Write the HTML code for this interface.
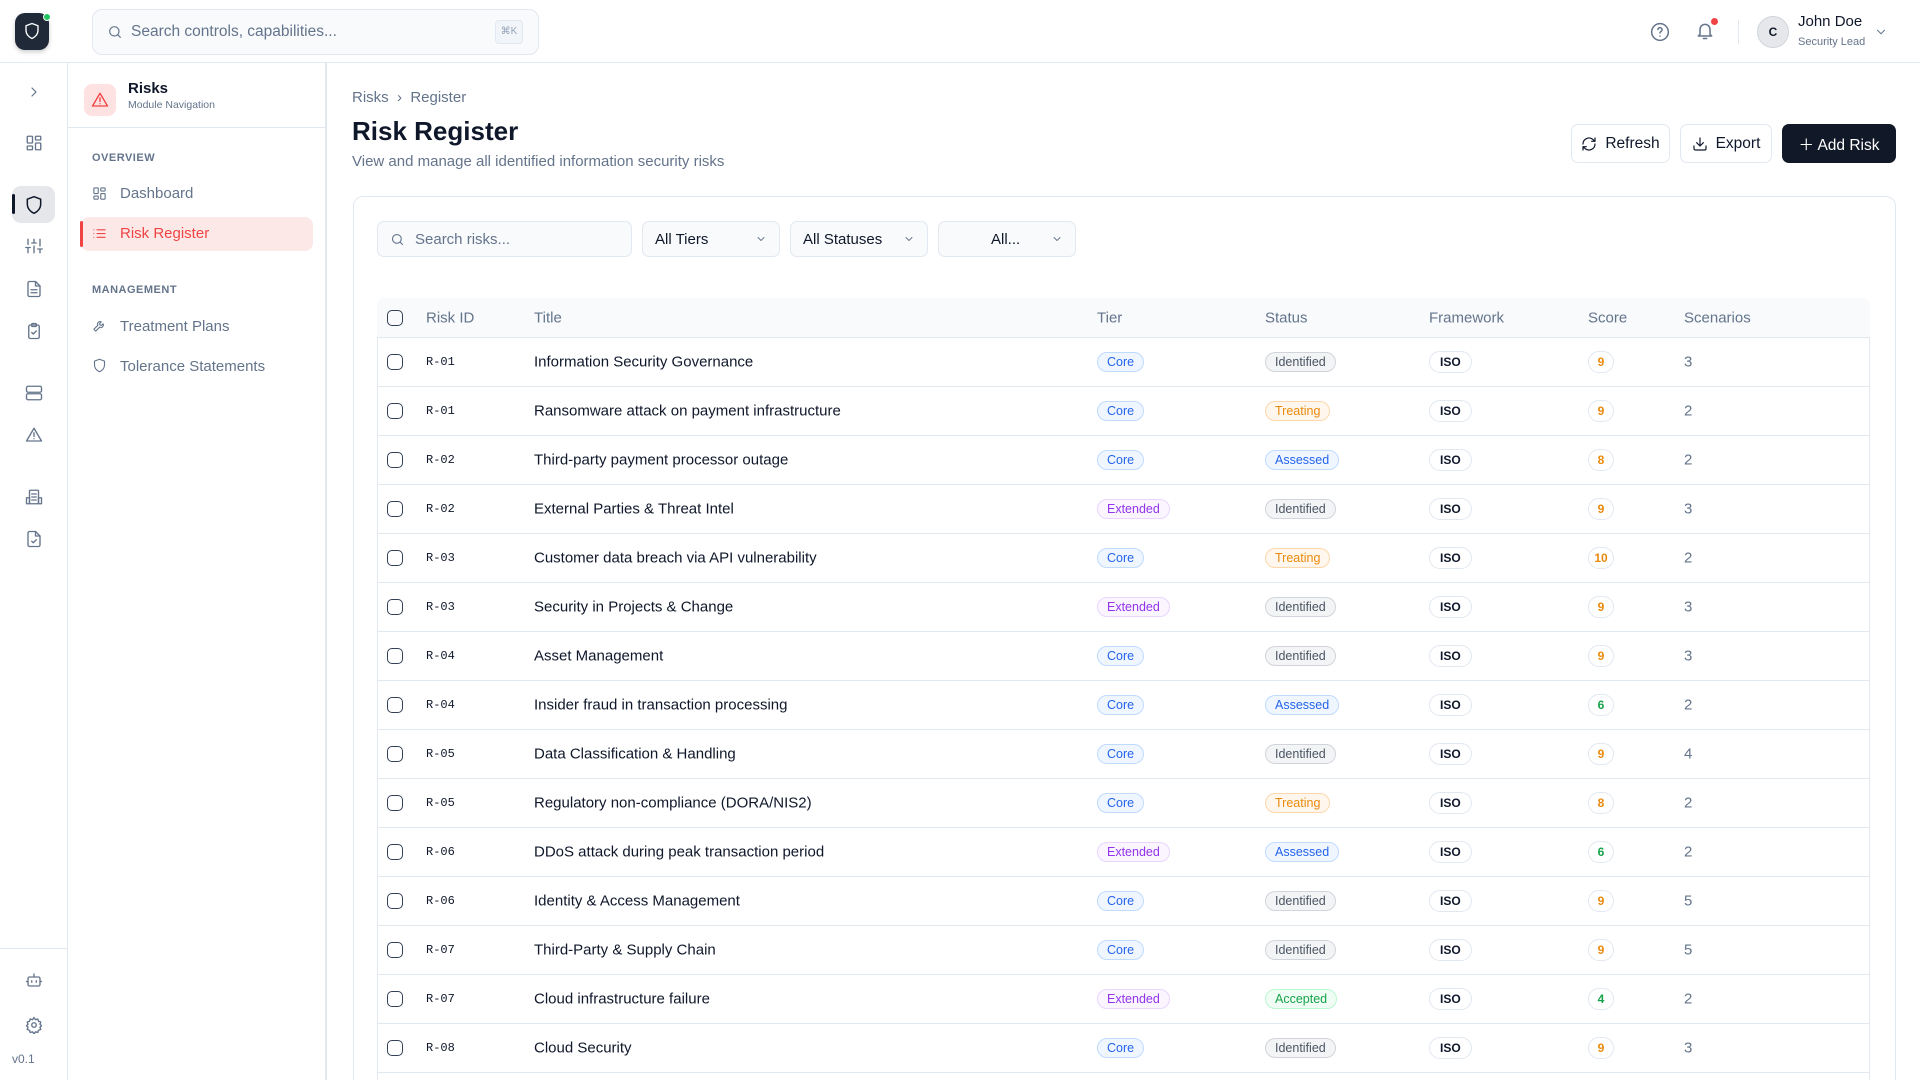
<!DOCTYPE html>
<html style="width:1920px;height:1080px;overflow:hidden"><head><meta charset="utf-8">
<style>
*{box-sizing:border-box;margin:0;padding:0}
body{width:1920px;height:1080px;overflow:hidden;background:#fff;font-family:"Liberation Sans",sans-serif;color:#0f172a;position:relative}
.abs{position:absolute}
.ic{position:absolute;stroke:#64748b;fill:none;stroke-width:1.8;stroke-linecap:round;stroke-linejoin:round}
.topbar{left:0;top:0;width:1920px;height:63px;border-bottom:1px solid #e2e8f0}
.rail{left:0;top:63px;width:68px;height:1017px;border-right:1px solid #e2e8f0}
.mod{left:68px;top:63px;width:259px;height:1017px;border-right:2px solid #e2e8f0}
.sec{font-size:11px;font-weight:bold;color:#64748b;letter-spacing:.5px}
.nav{font-size:15px;color:#64748b}
.btn{border:1px solid #e2e8f0;border-radius:7px;height:39px;top:124px;font-size:15.5px;display:flex;align-items:center;justify-content:center;gap:8px;color:#0f172a}
.flt{top:221px;height:36px;border:1px solid #e2e8f0;border-radius:7px;background:#f8fafc;font-size:15px;display:flex;align-items:center;padding:0 12px}
.row{left:377px;width:1493px;height:49px;border-bottom:1px solid #e2e8f0}
.cell{position:absolute;top:50%;transform:translateY(-50%);font-size:15px;white-space:nowrap}
.cb{position:absolute;left:10px;top:50%;margin-top:-8px;width:16px;height:16px;border:1.5px solid #334155;border-radius:5px}
.id{font-family:"Liberation Mono",monospace;font-size:12px;left:49px}
.badge{font-size:12.5px;padding:2px 9px;border-radius:11px;border:1px solid}
.core{color:#2563eb;background:#eff6ff;border-color:#bfdbfe}
.ext{color:#9333ea;background:#faf5ff;border-color:#e9d5ff}
.idf{color:#4b5563;background:#f3f4f6;border-color:#d1d5db}
.trt{color:#ea8a0c;background:#fff7ed;border-color:#fed7aa}
.asd{color:#2563eb;background:#eff6ff;border-color:#bfdbfe}
.acc{color:#16a34a;background:#f0fdf4;border-color:#bbf7d0}
.iso{font-size:12px;font-weight:bold;border:1px solid #e2e8f0;border-radius:11px;padding:3px 10px;background:#fff}
.sc{font-size:12px;font-weight:bold;border:1px solid #e2e8f0;border-radius:11px;padding:3px 0;width:26px;text-align:center}
.o{color:#ea8a0c}.g{color:#16a34a}
.hd{font-size:15px;color:#64748b}
</style></head><body>
<div class="abs topbar"></div>
<div class="abs rail"></div>
<div class="abs mod"></div>
<div class="abs" style="left:15px;top:13px;width:34px;height:37px;border-radius:10px;background:#1f2937;box-shadow:0 2px 5px rgba(0,0,0,.2)"></div>
<svg class="ic" style="left:23px;top:22px;stroke:#fff" width="18" height="18" viewBox="0 0 24 24"><path d="M12 2l8 3v6c0 5-3.5 9-8 11-4.5-2-8-6-8-11V5z"/></svg>
<div class="abs" style="left:43px;top:13px;width:8px;height:8px;border-radius:50%;background:#22c55e;border:1px solid #fff"></div>
<div class="abs" style="left:92px;top:9px;width:447px;height:46px;border:1px solid #e2e8f0;border-radius:10px;background:#f8fafc"></div>
<svg class="ic" style="left:107px;top:24px" width="16" height="16" viewBox="0 0 24 24"><circle cx="11" cy="11" r="7"/><path d="M20 20l-4-4"/></svg>
<div class="abs" style="left:131px;top:23px;font-size:15.5px;color:#64748b">Search controls, capabilities...</div>
<div class="abs" style="left:495px;top:20px;width:28px;height:24px;border:1px solid #e2e8f0;border-radius:4px;background:#f1f5f9;font-size:10px;color:#94a3b8;text-align:center;line-height:22px">⌘K</div>
<svg class="ic" style="left:1650px;top:22px" width="20" height="20" viewBox="0 0 24 24"><circle cx="12" cy="12" r="10"/><path d="M9.5 9a2.5 2.5 0 015 .5c0 1.7-2.5 2-2.5 3.5M12 17h.01"/></svg>
<svg class="ic" style="left:1695px;top:21px" width="20" height="20" viewBox="0 0 24 24"><path d="M6 16V10a6 6 0 0112 0v6l2 2H4zM10 21h4"/></svg>
<div class="abs" style="left:1711px;top:18px;width:7px;height:7px;border-radius:50%;background:#ef4444"></div>
<div class="abs" style="left:1738px;top:20px;width:1px;height:24px;background:#e2e8f0"></div>
<div class="abs" style="left:1757px;top:16px;width:32px;height:32px;border-radius:50%;background:#e5e7eb;border:1px solid #d1d5db;font-size:12px;font-weight:bold;text-align:center;line-height:30px">C</div>
<div class="abs" style="left:1798px;top:13px;font-size:15px">John Doe</div>
<div class="abs" style="left:1798px;top:36px;font-size:11px;color:#64748b">Security Lead</div>
<svg class="ic" style="left:1874px;top:25px" width="14" height="14" viewBox="0 0 24 24"><path d="M6 9l6 6 6-6"/></svg>
<svg class="ic" style="left:26px;top:84px" width="16" height="16" viewBox="0 0 24 24"><path d="M9 6l6 6-6 6"/></svg>
<svg class="ic" style="left:25px;top:134px" width="18" height="18" viewBox="0 0 24 24"><rect x="3" y="3" width="7" height="9" rx="1"/><rect x="14" y="3" width="7" height="5" rx="1"/><rect x="14" y="12" width="7" height="9" rx="1"/><rect x="3" y="16" width="7" height="5" rx="1"/></svg>
<div class="abs" style="left:12px;top:186px;width:43px;height:37px;border-radius:9px;background:#e5e7eb"></div>
<div class="abs" style="left:12px;top:194px;width:3px;height:20px;border-radius:2px;background:#0f172a"></div>
<svg class="ic" style="left:24px;top:195px;stroke:#0f172a" width="20" height="20" viewBox="0 0 24 24"><path d="M12 2l8 3v6c0 5-3.5 9-8 11-4.5-2-8-6-8-11V5z"/></svg>
<svg class="ic" style="left:25px;top:237px" width="18" height="18" viewBox="0 0 24 24"><path d="M4 21v-7M4 10V3M12 21v-9M12 8V3M20 21v-5M20 12V3M1 14h6M9 8h6M17 16h6"/></svg>
<svg class="ic" style="left:25px;top:280px" width="18" height="18" viewBox="0 0 24 24"><path d="M14 2H6a2 2 0 00-2 2v16a2 2 0 002 2h12a2 2 0 002-2V8z"/><path d="M14 2v6h6M8 13h8M8 17h8"/></svg>
<svg class="ic" style="left:25px;top:322px" width="18" height="18" viewBox="0 0 24 24"><rect x="5" y="4" width="14" height="18" rx="2"/><rect x="9" y="2" width="6" height="4" rx="1"/><path d="M9 14l2 2 4-4"/></svg>
<svg class="ic" style="left:25px;top:384px" width="18" height="18" viewBox="0 0 24 24"><rect x="2" y="3" width="20" height="8" rx="2"/><rect x="2" y="13" width="20" height="8" rx="2"/></svg>
<svg class="ic" style="left:25px;top:426px" width="18" height="18" viewBox="0 0 24 24"><path d="M12 3L2 20h20zM12 9v5M12 17h.01"/></svg>
<svg class="ic" style="left:25px;top:488px" width="18" height="18" viewBox="0 0 24 24"><rect x="6" y="3" width="12" height="18" rx="1"/><path d="M2 13h4v8H2zM18 13h4v8h-4zM9 8h6M9 12h6M9 16h6"/></svg>
<svg class="ic" style="left:25px;top:530px" width="18" height="18" viewBox="0 0 24 24"><path d="M14 2H6a2 2 0 00-2 2v16a2 2 0 002 2h12a2 2 0 002-2V8z"/><path d="M14 2v6h6M9 15l2 2 4-4"/></svg>
<div class="abs" style="left:0;top:948px;width:68px;height:1px;background:#e2e8f0"></div>
<svg class="ic" style="left:25px;top:971px" width="18" height="18" viewBox="0 0 24 24"><rect x="4" y="8" width="16" height="12" rx="2"/><path d="M12 4v4M2 14h2M20 14h2M9 13v2M15 13v2"/></svg>
<svg class="ic" style="left:25px;top:1016px" width="18" height="18" viewBox="0 0 24 24"><circle cx="12" cy="12" r="3"/><path d="M12 2l2 3 3-1 1 3 3 1-1 3 2 2-2 2 1 3-3 1-1 3-3-1-2 3-2-3-3 1-1-3-3-1 1-3-2-2 2-2-1-3 3-1 1-3 3 1z"/></svg>
<div class="abs" style="left:12px;top:1052px;font-size:12px;color:#64748b">v0.1</div>
<div class="abs" style="left:84px;top:84px;width:32px;height:32px;border-radius:8px;background:#fee2e2"></div>
<svg class="ic" style="left:91px;top:91px;stroke:#ef4444" width="18" height="18" viewBox="0 0 24 24"><path d="M12 3L2 20h20zM12 9v5M12 17h.01"/></svg>
<div class="abs" style="left:128px;top:80px;font-size:15px;font-weight:bold">Risks</div>
<div class="abs" style="left:128px;top:99px;font-size:10.5px;color:#64748b">Module Navigation</div>
<div class="abs" style="left:68px;top:127px;width:259px;height:1px;background:#e2e8f0"></div>
<div class="abs sec" style="left:92px;top:152px">OVERVIEW</div>
<svg class="ic" style="left:92px;top:186px" width="15" height="15" viewBox="0 0 24 24"><rect x="3" y="3" width="7" height="9" rx="1"/><rect x="14" y="3" width="7" height="5" rx="1"/><rect x="14" y="12" width="7" height="9" rx="1"/><rect x="3" y="16" width="7" height="5" rx="1"/></svg>
<div class="abs nav" style="left:120px;top:185px">Dashboard</div>
<div class="abs" style="left:81px;top:217px;width:232px;height:34px;border-radius:8px;background:#fde8e8"></div>
<div class="abs" style="left:80px;top:221px;width:3px;height:26px;border-radius:2px;background:#ef4444"></div>
<svg class="ic" style="left:92px;top:226px;stroke:#ef4444" width="15" height="15" viewBox="0 0 24 24"><path d="M8 6h13M8 12h13M8 18h13M3 6h.01M3 12h.01M3 18h.01"/></svg>
<div class="abs nav" style="left:120px;top:225px;color:#ef4444">Risk Register</div>
<div class="abs sec" style="left:92px;top:284px">MANAGEMENT</div>
<svg class="ic" style="left:92px;top:318px" width="15" height="15" viewBox="0 0 24 24"><path d="M14.7 6.3a4 4 0 00-5.4 5.4L3 18l3 3 6.3-6.3a4 4 0 005.4-5.4l-2.5 2.5-2.5-.5-.5-2.5z"/></svg>
<div class="abs nav" style="left:120px;top:318px">Treatment Plans</div>
<svg class="ic" style="left:92px;top:358px" width="15" height="15" viewBox="0 0 24 24"><path d="M12 2l8 3v6c0 5-3.5 9-8 11-4.5-2-8-6-8-11V5z"/></svg>
<div class="abs nav" style="left:120px;top:358px">Tolerance Statements</div>
<div class="abs" style="left:352px;top:89px;font-size:15px;color:#64748b">Risks &nbsp;›&nbsp; Register</div>
<div class="abs" style="left:352px;top:116px;font-size:26px;font-weight:bold">Risk Register</div>
<div class="abs" style="left:352px;top:153px;font-size:15px;color:#64748b">View and manage all identified information security risks</div>
<div class="abs btn" style="left:1571px;width:99px"><svg class="ic" style="position:static;stroke:#0f172a" width="16" height="16" viewBox="0 0 24 24"><path d="M21 12a9 9 0 01-15 6.7L3 16M3 12a9 9 0 0115-6.7L21 8M21 3v5h-5M3 21v-5h5"/></svg>Refresh</div>
<div class="abs btn" style="left:1680px;width:92px"><svg class="ic" style="position:static;stroke:#0f172a" width="16" height="16" viewBox="0 0 24 24"><path d="M21 15v4a2 2 0 01-2 2H5a2 2 0 01-2-2v-4M7 10l5 5 5-5M12 15V3"/></svg>Export</div>
<div class="abs btn" style="left:1782px;width:114px;top:124px;height:39px;background:#111827;color:#fff;border-color:#111827">＋ Add Risk</div>
<div class="abs" style="left:353px;top:196px;width:1543px;height:900px;border:1px solid #e2e8f0;border-radius:10px"></div>
<div class="abs flt" style="left:377px;width:255px;color:#64748b"><svg class="ic" style="position:static;margin-right:10px" width="15" height="15" viewBox="0 0 24 24"><circle cx="11" cy="11" r="7"/><path d="M20 20l-4-4"/></svg>Search risks...</div>
<div class="abs flt" style="left:642px;width:138px;justify-content:space-between">All Tiers<svg class="ic" style="position:static" width="12" height="12" viewBox="0 0 24 24"><path d="M6 9l6 6 6-6"/></svg></div>
<div class="abs flt" style="left:790px;width:138px;justify-content:space-between">All Statuses<svg class="ic" style="position:static" width="12" height="12" viewBox="0 0 24 24"><path d="M6 9l6 6 6-6"/></svg></div>
<div class="abs flt" style="left:938px;width:138px;justify-content:space-between"><span style="margin-left:40px">All...</span><svg class="ic" style="position:static" width="12" height="12" viewBox="0 0 24 24"><path d="M6 9l6 6 6-6"/></svg></div>
<div class="abs" style="left:377px;top:298px;width:1493px;height:800px;border:1px solid #e2e8f0;border-radius:8px"></div>
<div class="abs row" style="top:298px;height:40px;background:#f8fafc;border-radius:8px 8px 0 0">
<div class="cb"></div>
<div class="cell hd" style="left:49px">Risk ID</div><div class="cell hd" style="left:157px">Title</div><div class="cell hd" style="left:720px">Tier</div><div class="cell hd" style="left:888px">Status</div><div class="cell hd" style="left:1052px">Framework</div><div class="cell hd" style="left:1211px">Score</div><div class="cell hd" style="left:1307px">Scenarios</div>
</div>
<div id="rows"></div>
<script>
const d=[["R-01","Information Security Governance","core","idf","Identified","9","o",3],
["R-01","Ransomware attack on payment infrastructure","core","trt","Treating","9","o",2],
["R-02","Third-party payment processor outage","core","asd","Assessed","8","o",2],
["R-02","External Parties & Threat Intel","ext","idf","Identified","9","o",3],
["R-03","Customer data breach via API vulnerability","core","trt","Treating","10","o",2],
["R-03","Security in Projects & Change","ext","idf","Identified","9","o",3],
["R-04","Asset Management","core","idf","Identified","9","o",3],
["R-04","Insider fraud in transaction processing","core","asd","Assessed","6","g",2],
["R-05","Data Classification & Handling","core","idf","Identified","9","o",4],
["R-05","Regulatory non-compliance (DORA/NIS2)","core","trt","Treating","8","o",2],
["R-06","DDoS attack during peak transaction period","ext","asd","Assessed","6","g",2],
["R-06","Identity & Access Management","core","idf","Identified","9","o",5],
["R-07","Third-Party & Supply Chain","core","idf","Identified","9","o",5],
["R-07","Cloud infrastructure failure","ext","acc","Accepted","4","g",2],
["R-08","Cloud Security","core","idf","Identified","9","o",3]];
let h="";
d.forEach((r,i)=>{const t=338+i*49;
h+=`<div class="abs row" style="top:${t}px"><div class="cb"></div><div class="cell id">${r[0]}</div><div class="cell" style="left:157px">${r[1].replace(/&/g,'&amp;')}</div><div class="cell badge ${r[2]}" style="left:720px">${r[2]=='core'?'Core':'Extended'}</div><div class="cell badge ${r[3]}" style="left:888px">${r[4]}</div><div class="cell iso" style="left:1052px">ISO</div><div class="cell sc ${r[6]}" style="left:1211px">${r[5]}</div><div class="cell" style="left:1307px;color:#64748b">${r[7]}</div></div>`;});
document.getElementById("rows").innerHTML=h;
</script>
</body></html>
